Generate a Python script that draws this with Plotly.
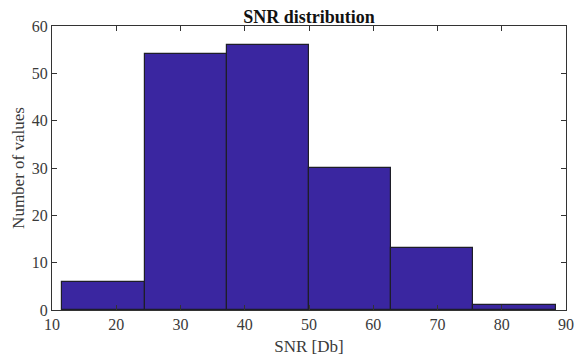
import plotly.graph_objects as go

bin_edges = [11.6, 24.4, 37.2, 50.0, 62.8, 75.6, 88.4]
counts = [6, 54, 56, 30, 13, 1]

centers = [(a + b) / 2 for a, b in zip(bin_edges[:-1], bin_edges[1:])]
widths = [b - a for a, b in zip(bin_edges[:-1], bin_edges[1:])]

fig = go.Figure(go.Bar(
    x=centers, y=counts, width=widths,
    marker=dict(color="rgb(58,38,160)", line=dict(color="rgb(30,30,40)", width=1.2)),
))

font = "Liberation Serif, Times New Roman, serif"
fig.update_layout(
    width=584, height=362,
    margin=dict(l=52, r=10, t=26, b=51),
    paper_bgcolor="white", plot_bgcolor="white",
    font=dict(family=font, size=16, color="#3a3a3a"),
    showlegend=False,
    title=dict(text="<b>SNR distribution</b>", x=0.5, xref="paper", y=0.955, yref="container",
               xanchor="center", yanchor="middle", font=dict(family=font, size=18, color="#111")),
    bargap=0,
)
fig.update_xaxes(range=[10, 90], tickvals=[10, 20, 30, 40, 50, 60, 70, 80, 90],
                 ticks="inside", ticklen=5, tickcolor="#333", showline=True, linecolor="#333",
                 linewidth=1.2, mirror="ticks", showgrid=False, zeroline=False,
                 title=dict(text="SNR [Db]", standoff=7, font=dict(size=17)))
fig.update_yaxes(range=[0, 60], tickvals=[0, 10, 20, 30, 40, 50, 60],
                 ticks="inside", ticklen=5, tickcolor="#333", showline=True, linecolor="#333",
                 linewidth=1.2, mirror="ticks", showgrid=False, zeroline=False,
                 title=dict(text="Number of values", standoff=2, font=dict(size=17)))

fig.write_html("out.html")
